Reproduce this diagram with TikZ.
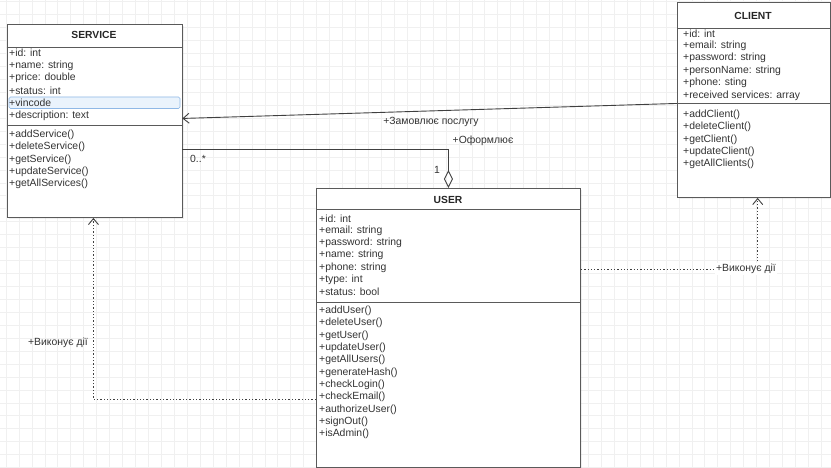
\documentclass[tikz,border=0pt]{standalone}
\usepackage{fontspec}
\setmainfont{Liberation Sans}
\usetikzlibrary{arrows.meta,shadows}
\definecolor{gridc}{HTML}{F0F0F0}
\definecolor{boxc}{HTML}{5A5A5A}
\definecolor{txtc}{HTML}{333333}
\definecolor{hlfill}{HTML}{EAF3FC}
\definecolor{hldraw}{HTML}{8FB8E6}
\tikzset{
  umlbox/.style={draw=boxc, line width=0.9pt, fill=white, anchor=north west,
    drop shadow={opacity=0.12, shadow xshift=2pt, shadow yshift=-2pt}},
  sepline/.style={draw=boxc, line width=0.9pt},
  attr/.style={anchor=west, inner sep=0pt, text=txtc, font=\fontsize{10.4}{12}\selectfont},
  ttl/.style={inner sep=0pt, text=black!85, font=\bfseries\fontsize{10.3}{12}\selectfont},
  conn/.style={draw=black!75, line width=0.9pt},
  dep/.style={conn, dash pattern=on 1.3pt off 2pt},
  openarrow/.style={-{Straight Barb[length=6pt,width=10pt]}},
  lbl/.style={inner sep=1pt, text=txtc, font=\fontsize{10.4}{12}\selectfont},
}
\begin{document}
\begin{tikzpicture}[x=1pt,y=-1pt]
\useasboundingbox (0,0) rectangle (831,468);
\fill[white] (0,0) rectangle (831,468);
% grid
\foreach \k in {0,...,64} \draw[gridc, line width=0.6pt] ({6+12.94*\k},0) -- ({6+12.94*\k},468);
\foreach \k in {0,...,36} \draw[gridc, line width=0.6pt] (0,{1.7+12.94*\k}) -- (831,{1.7+12.94*\k});

% boxes
\node[umlbox, minimum width=175pt, minimum height=193pt] (service) at (6.5,24) {};
\node[umlbox, minimum width=152.5pt, minimum height=195pt] (client) at (677,2) {};
\node[umlbox, minimum width=264pt, minimum height=279pt] (user) at (316,188) {};

\draw[sepline] (6.5,47) -- (181.5,47);
\draw[sepline] (6.5,125) -- (181.5,125);
\draw[sepline] (677,28) -- (829.5,28);
\draw[sepline] (677,103) -- (829.5,103);
\draw[sepline] (316,209) -- (580,209);
\draw[sepline] (316,302) -- (580,302);

% highlight
\draw[hldraw, fill=hlfill, line width=0.7pt, rounded corners=1.5pt] (9,97) rectangle (180,108.5);

% titles
\node[ttl] (st) at (94,35) {SERVICE};
\node[ttl] (ct) at (753,15.5) {CLIENT};
\node[ttl] (ut) at (448,199.5) {USER};

% SERVICE rows
\foreach \t [count=\i] in {+id: int,+name: string,+price: double,+status: int,+vincode,+description: text}
  \node[attr, name=sa\i] at (9,{53+12.5*(\i-1)}) {\t};
\foreach \t [count=\i] in {+addService(),+deleteService(),+getService(),+updateService(),+getAllServices()}
  \node[attr, name=sm\i] at (9,{135+12.25*(\i-1)}) {\t};

% CLIENT rows
\foreach \t [count=\i] in {+id: int,+email: string,+password: string,+personName: string,+phone: sting,+received services: array}
  \node[attr, name=ca\i] at (683,{33.3+12.45*(\i-1)}) {\t};
\foreach \t [count=\i] in {+addClient(),+deleteClient(),+getClient(),+updateClient(),+getAllClients()}
  \node[attr, name=cm\i] at (683,{115+12.25*(\i-1)}) {\t};

% USER rows
\foreach \t [count=\i] in {+id: int,+email: string,+password: string,+name: string,+phone: string,+type: int,+status: bool}
  \node[attr, name=ua\i] at (319,{218.3+12.33*(\i-1)}) {\t};
\foreach \t [count=\i] in {+addUser(),+deleteUser(),+getUser(),+updateUser(),+getAllUsers(),+generateHash(),+checkLogin(),+checkEmail(),+authorizeUser(),+signOut(),+isAdmin()}
  \node[attr, name=um\i] at (319,{311+12.3*(\i-1)}) {\t};

% connectors
\draw[conn, openarrow] ([yshift=-3.5pt]client.west) -- ([yshift=2.5pt]service.east);
\node[lbl] (lz) at (431,122) {+Замовлює послугу};

\draw[conn, {Diamond[open,length=18pt,width=9pt]}-] (user.north) |- ([yshift=-28.5pt]service.east);
\node[lbl] (m0) at (198,159) {0..*};
\node[lbl] (m1) at (437,170) {1};
\node[lbl] (lo) at (483,141) {+Оформлює};

\draw[dep, openarrow] ([yshift=58.5pt]user.east) -| ([xshift=4pt]client.south);
\node[lbl, fill=white] (lv1) at (746,269) {+Виконує дії};

\draw[dep, openarrow] ([yshift=-71.5pt]user.west) -| ([xshift=-1pt]service.south);
\node[lbl] (lv2) at (58,343) {+Виконує дії};
\end{tikzpicture}
\end{document}
